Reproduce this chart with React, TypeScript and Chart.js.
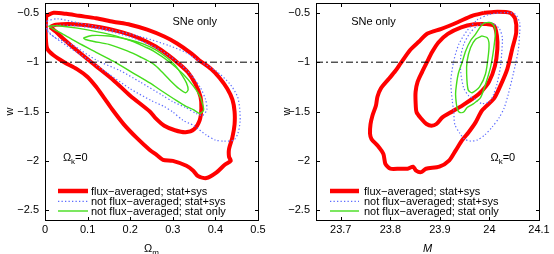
import React, { useEffect, useRef } from "react";
import { Chart, registerables } from "chart.js";

Chart.register(...registerables);

const FONT = "'Liberation Sans', Arial, Helvetica, sans-serif";

// ---------- text / ticks ----------
const legendLabels = [
  "flux\u2212averaged; stat+sys",
  "not flux\u2212averaged; stat+sys",
  "not flux\u2212averaged; stat only",
];
const wTicks = [-2.5, -2, -1.5, -1, -0.5];
const omTicks = [0, 0.1, 0.2, 0.3, 0.4, 0.5];
const mTicks = [23.7, 23.8, 23.9, 24, 24.1];
const wRef = -1;

// ---------- left panel: (Omega_m, w) contours ----------
const omFluxSys2 = [
  [0.003, -0.53], [0.02, -0.5], [0.05, -0.51], [0.08, -0.53], [0.12, -0.555], [0.16, -0.59],
  [0.2, -0.62], [0.24, -0.67], [0.28, -0.74], [0.31, -0.81], [0.34, -0.9], [0.362, -0.98],
  [0.39, -1.07], [0.41, -1.16], [0.428, -1.27], [0.44, -1.38], [0.445, -1.5], [0.445, -1.63],
  [0.44, -1.76], [0.432, -1.88], [0.432, -1.96], [0.436, -2.0], [0.422, -2.04], [0.402, -2.12],
  [0.379, -2.175], [0.359, -2.155], [0.348, -2.1], [0.332, -2.05], [0.3, -2.0], [0.277, -1.99],
  [0.262, -1.94], [0.246, -1.89], [0.216, -1.77], [0.185, -1.63], [0.158, -1.48], [0.14, -1.37],
  [0.12, -1.25], [0.1, -1.15], [0.075, -1.07], [0.045, -1.0], [0.02, -0.93], [0.005, -0.86],
  [0.002, -0.75], [0.002, -0.62],
];
const omFluxSys1 = [
  [0.012, -0.645], [0.025, -0.62], [0.07, -0.615], [0.13, -0.645], [0.18, -0.695], [0.22, -0.755],
  [0.26, -0.84], [0.29, -0.93], [0.31, -1.0], [0.335, -1.1], [0.353, -1.22], [0.365, -1.35],
  [0.367, -1.47], [0.363, -1.59], [0.35, -1.68], [0.33, -1.71], [0.305, -1.69], [0.28, -1.645],
  [0.26, -1.57], [0.246, -1.5], [0.2, -1.34], [0.16, -1.18], [0.12, -1.04], [0.08, -0.9],
  [0.045, -0.77], [0.025, -0.69],
];
const omNoFluxSys2 = [
  [0.005, -0.58], [0.03, -0.56], [0.076, -0.6], [0.154, -0.67], [0.232, -0.75], [0.293, -0.835],
  [0.33, -0.9], [0.363, -0.99], [0.402, -1.09], [0.434, -1.22], [0.452, -1.35], [0.457, -1.47],
  [0.458, -1.6], [0.453, -1.72], [0.443, -1.79], [0.42, -1.8], [0.4, -1.79], [0.379, -1.74],
  [0.348, -1.64], [0.324, -1.59], [0.3, -1.505], [0.28, -1.45], [0.25, -1.39], [0.2, -1.27],
  [0.15, -1.12], [0.1, -0.97], [0.05, -0.83], [0.02, -0.74], [0.005, -0.68],
];
const omNoFluxSys1 = [
  [0.003, -0.66], [0.03, -0.625], [0.08, -0.635], [0.14, -0.675], [0.2, -0.745], [0.25, -0.83],
  [0.29, -0.93], [0.32, -1.03], [0.345, -1.14], [0.365, -1.26], [0.377, -1.38], [0.38, -1.48],
  [0.37, -1.54], [0.355, -1.52], [0.33, -1.46], [0.3, -1.4], [0.277, -1.34], [0.223, -1.2],
  [0.176, -1.085], [0.121, -0.98], [0.066, -0.83], [0.02, -0.74],
];
const omNoFluxStat2 = [
  [0.008, -0.635], [0.03, -0.63], [0.076, -0.655], [0.154, -0.72], [0.207, -0.79], [0.232, -0.84],
  [0.254, -0.885], [0.293, -1.0], [0.324, -1.12], [0.348, -1.24], [0.363, -1.34], [0.371, -1.44],
  [0.372, -1.49], [0.363, -1.52], [0.348, -1.48], [0.332, -1.45], [0.309, -1.39], [0.277, -1.3],
  [0.246, -1.21], [0.207, -1.11], [0.16, -0.99], [0.12, -0.9], [0.076, -0.8], [0.04, -0.71],
  [0.02, -0.665],
];
const omNoFluxStat1 = [
  [0.09, -0.755], [0.11, -0.73], [0.15, -0.735], [0.19, -0.765], [0.23, -0.815], [0.26, -0.875],
  [0.285, -0.95], [0.305, -1.03], [0.32, -1.12], [0.332, -1.21], [0.336, -1.28], [0.33, -1.31],
  [0.315, -1.27], [0.295, -1.19], [0.275, -1.1], [0.255, -1.02], [0.225, -0.95], [0.193, -0.886],
  [0.15, -0.82], [0.115, -0.79], [0.095, -0.77],
];

// ---------- right panel: (M, w) contours ----------
const mFluxSys2 = [
  [23.989, -0.5], [24.016, -0.488], [24.042, -0.5], [24.052, -0.56], [24.054, -0.7], [24.046, -0.865],
  [24.036, -1.07], [24.022, -1.24], [24.009, -1.37], [23.985, -1.49], [23.972, -1.61], [23.958, -1.71],
  [23.945, -1.79], [23.932, -1.894], [23.919, -1.995], [23.899, -2.06], [23.872, -2.08], [23.862, -2.115],
  [23.852, -2.1], [23.846, -2.06], [23.835, -2.08], [23.82, -2.08], [23.8, -2.08], [23.79, -2.03],
  [23.786, -1.93], [23.775, -1.85], [23.762, -1.78], [23.759, -1.725], [23.76, -1.63], [23.764, -1.54],
  [23.771, -1.44], [23.774, -1.35], [23.781, -1.265], [23.798, -1.163], [23.81, -1.09], [23.821, -1.01],
  [23.84, -0.876], [23.858, -0.79], [23.875, -0.71], [23.903, -0.662], [23.936, -0.595], [23.965, -0.53],
];
const mFluxSys1 = [
  [23.992, -0.612], [24.009, -0.63], [24.015, -0.73], [24.016, -0.865], [24.011, -1.04], [23.999, -1.2],
  [23.985, -1.29], [23.969, -1.36], [23.945, -1.44], [23.925, -1.5], [23.905, -1.56], [23.893, -1.627],
  [23.883, -1.644], [23.873, -1.627], [23.863, -1.576], [23.853, -1.508], [23.851, -1.407], [23.851, -1.3],
  [23.855, -1.2], [23.864, -1.1], [23.874, -1.0], [23.884, -0.9], [23.897, -0.8], [23.916, -0.713],
  [23.943, -0.646], [23.969, -0.615],
];
const mNoFluxSys2 = [
  [23.975, -0.57], [24.0, -0.515], [24.032, -0.497], [24.052, -0.513], [24.061, -0.6], [24.061, -0.7],
  [24.058, -0.886], [24.048, -1.12], [24.038, -1.325], [24.03, -1.46], [24.02, -1.56], [24.005, -1.66],
  [23.99, -1.74], [23.975, -1.79], [23.962, -1.8], [23.95, -1.78], [23.94, -1.72], [23.93, -1.63],
  [23.928, -1.5], [23.925, -1.393], [23.922, -1.19], [23.928, -0.987], [23.938, -0.82], [23.955, -0.68],
];
const mNoFluxSys1 = [
  [23.99, -0.6], [24.005, -0.6], [24.02, -0.66], [24.026, -0.75], [24.025, -0.886], [24.022, -1.055],
  [24.015, -1.224], [24.008, -1.33], [24.0, -1.4], [23.985, -1.42], [23.972, -1.38], [23.958, -1.34],
  [23.948, -1.26], [23.942, -1.1], [23.942, -0.95], [23.948, -0.82], [23.96, -0.71], [23.975, -0.63],
];
const mNoFluxStat2 = [
  [23.99, -0.6], [24.003, -0.6], [24.01, -0.64], [24.012, -0.7], [24.008, -0.886], [24.002, -1.055],
  [23.992, -1.224], [23.982, -1.36], [23.968, -1.42], [23.955, -1.46], [23.948, -1.505], [23.94, -1.51],
  [23.935, -1.47], [23.932, -1.36], [23.932, -1.29], [23.937, -1.12], [23.945, -1.0], [23.952, -0.886],
  [23.962, -0.78], [23.972, -0.716], [23.982, -0.64],
];
const mNoFluxStat1 = [
  [23.985, -0.734], [23.995, -0.75], [23.999, -0.8], [23.998, -0.92], [23.992, -1.12], [23.98, -1.25],
  [23.965, -1.31], [23.957, -1.28], [23.954, -1.12], [23.955, -0.987], [23.962, -0.852], [23.972, -0.767],
];

// ---------- styles ----------
const STYLES = [
  { color: "#ff0000", width: 4, dash: [] as number[] },
  { color: "#5c6cff", width: 1.2, dash: [1.3, 2.2] },
  { color: "#44dd1c", width: 1.4, dash: [] as number[] },
];

const fmt = (v: number) => (v < 0 ? "\u2212" + String(Math.abs(v)) : String(v));

const overlayPlugin = {
  id: "overlay",
  afterDatasetsDraw(chart: any, _args: any, o: any) {
    const { ctx, chartArea: a } = chart;
    const xs = chart.scales.x;
    const ys = chart.scales.y;
    ctx.save();
    // frame
    ctx.strokeStyle = "#000";
    ctx.lineWidth = 1;
    ctx.setLineDash([]);
    const L = Math.round(a.left) + 0.5, R = Math.round(a.right) + 0.5;
    const T = Math.round(a.top) + 0.5, B = Math.round(a.bottom) + 0.5;
    ctx.strokeRect(L, T, R - L, B - T);
    ctx.beginPath();
    o.xTicks.forEach((v: number) => {
      const px = Math.round(xs.getPixelForValue(v)) + 0.5;
      ctx.moveTo(px, B); ctx.lineTo(px, B - 3.5);
      ctx.moveTo(px, T); ctx.lineTo(px, T + 3.5);
    });
    wTicks.forEach((v) => {
      const py = Math.round(ys.getPixelForValue(v)) + 0.5;
      ctx.moveTo(L, py); ctx.lineTo(L + 3.5, py);
      ctx.moveTo(R, py); ctx.lineTo(R - 3.5, py);
    });
    ctx.stroke();

    ctx.fillStyle = "#000";
    // legend
    ctx.textAlign = "left";
    ctx.textBaseline = "middle";
    legendLabels.forEach((t, i) => {
      const st = STYLES[i];
      const yy = a.bottom + o.legendRows[i];
      ctx.beginPath();
      ctx.strokeStyle = st.color;
      ctx.lineWidth = i === 0 ? 4.5 : st.width;
      ctx.setLineDash(st.dash);
      ctx.moveTo(a.left + o.legendLine[0], yy);
      ctx.lineTo(a.left + o.legendLine[1], yy);
      ctx.stroke();
      ctx.setLineDash([]);
      ctx.font = `11px ${FONT}`;
      ctx.fillText(t, a.left + o.legendText, yy + 0.5);
    });

    // SNe only
    ctx.textAlign = "center";
    ctx.font = `11px ${FONT}`;
    ctx.fillText("SNe only", xs.getPixelForValue(o.sne[0]), ys.getPixelForValue(o.sne[1]));

    // Omega_k = 0
    ctx.textAlign = "left";
    ctx.textBaseline = "alphabetic";
    let x0 = xs.getPixelForValue(o.omk[0]);
    const y0 = ys.getPixelForValue(o.omk[1]);
    ctx.font = `11px ${FONT}`;
    ctx.fillText("\u03A9", x0, y0);
    x0 += ctx.measureText("\u03A9").width;
    ctx.font = `8px ${FONT}`;
    ctx.fillText("k", x0, y0 + 3.5);
    x0 += ctx.measureText("k").width;
    ctx.font = `11px ${FONT}`;
    ctx.fillText("=0", x0, y0);

    // y title
    ctx.save();
    ctx.translate(9.5, (a.top + a.bottom) / 2);
    ctx.rotate(-Math.PI / 2);
    ctx.textAlign = "center";
    ctx.textBaseline = "middle";
    ctx.font = `11px ${FONT}`;
    ctx.fillText("w", 0, 0);
    ctx.restore();

    // x title
    const cx = (a.left + a.right) / 2;
    const by = 252;
    if (o.xTitle === "om") {
      ctx.font = `11px ${FONT}`;
      const w1 = ctx.measureText("\u03A9").width;
      ctx.font = `8px ${FONT}`;
      const w2 = ctx.measureText("m").width;
      const sx = cx - (w1 + w2) / 2;
      ctx.font = `11px ${FONT}`;
      ctx.fillText("\u03A9", sx, by);
      ctx.font = `8px ${FONT}`;
      ctx.fillText("m", sx + w1, by + 3);
    } else {
      ctx.font = `italic 11px ${FONT}`;
      ctx.textAlign = "center";
      ctx.fillText("M", cx, by);
    }
    ctx.restore();
  },
};

type Pt = number[];

function buildConfig(p: any) {
  const contours: Pt[][] = p.sets;
  const datasets: any[] = contours.map((pts, i) => {
    const st = STYLES[Math.floor(i / 2)];
    return {
      label: legendLabels[Math.floor(i / 2)],
      data: [...pts, pts[0]],
      showLine: true,
      pointRadius: 0,
      borderColor: st.color,
      borderWidth: st.width,
      borderDash: st.dash,
      tension: 0.25,
      fill: false,
      order: 10 - Math.floor(i / 2) * 3,
    };
  });
  datasets.push({
    label: "w = -1",
    data: [[p.xMin, wRef], [p.xMax, wRef]],
    showLine: true,
    pointRadius: 0,
    borderColor: "#000",
    borderWidth: 1,
    borderDash: [7, 3, 2, 3],
    tension: 0,
    fill: false,
    order: 0,
  });
  return {
    type: "scatter",
    data: { datasets },
    options: {
      responsive: false,
      animation: false,
      devicePixelRatio: 1,
      layout: { padding: { left: 0, right: p.padRight, top: 3, bottom: 0 } },
      plugins: {
        legend: { display: false },
        tooltip: { enabled: false },
        overlay: p,
      },
      scales: {
        x: {
          type: "linear",
          min: p.xMin,
          max: p.xMax,
          grid: { display: false, drawTicks: false },
          border: { display: false },
          afterBuildTicks: (s: any) => { s.ticks = p.xTicks.map((v: number) => ({ value: v })); },
          afterFit: (s: any) => { s.height = 34; s.paddingLeft = 0; s.paddingRight = 0; },
          ticks: {
            padding: 3,
            maxRotation: 0,
            autoSkip: false,
            color: "#000",
            font: { family: FONT, size: 11 },
            callback: (v: any) => fmt(Number(v)),
          },
        },
        y: {
          type: "linear",
          min: -2.6,
          max: -0.4,
          grid: { display: false, drawTicks: false },
          border: { display: false },
          afterBuildTicks: (s: any) => { s.ticks = wTicks.map((v) => ({ value: v })); },
          afterFit: (s: any) => { s.width = p.yAxisWidth; s.paddingTop = 0; s.paddingBottom = 0; },
          ticks: {
            padding: 6,
            autoSkip: false,
            color: "#000",
            font: { family: FONT, size: 11 },
            callback: (v: any) => fmt(Number(v)),
          },
        },
      },
    },
    plugins: [overlayPlugin],
  };
}

const leftPanel = {
  sets: [omFluxSys2, omFluxSys1, omNoFluxSys2, omNoFluxSys1, omNoFluxStat2, omNoFluxStat1],
  xMin: 0,
  xMax: 0.5,
  xTicks: omTicks,
  xTitle: "om",
  yAxisWidth: 45,
  padRight: 19,
  sne: [0.3515, -0.59],
  omk: [0.042, -2.0],
  legendLine: [13, 43],
  legendText: 46,
  legendRows: [-29, -18.7, -9],
};

const rightPanel = {
  sets: [mFluxSys2, mFluxSys1, mNoFluxSys2, mNoFluxSys1, mNoFluxStat2, mNoFluxStat1],
  xMin: 23.65,
  xMax: 24.1,
  xTicks: mTicks,
  xTitle: "M",
  yAxisWidth: 39,
  padRight: 15,
  sne: [23.766, -0.59],
  omk: [24.002, -2.0],
  legendLine: [14, 43],
  legendText: 48,
  legendRows: [-29, -18.7, -9],
};

function Panel({ spec, left }: { spec: any; left: number }) {
  const ref = useRef<HTMLCanvasElement | null>(null);
  useEffect(() => {
    if (!ref.current) return;
    const chart = new Chart(ref.current, buildConfig(spec) as any);
    return () => chart.destroy();
  }, [spec]);
  return (
    <canvas
      ref={ref}
      width={277}
      height={254}
      style={{ position: "absolute", left, top: 0, width: 277, height: 254 }}
    />
  );
}

export default function App() {
  return (
    <div style={{ position: "fixed", left: 0, top: 0, width: 554, height: 254, background: "#fff" }}>
      <Panel spec={leftPanel} left={0} />
      <Panel spec={rightPanel} left={277} />
    </div>
  );
}
